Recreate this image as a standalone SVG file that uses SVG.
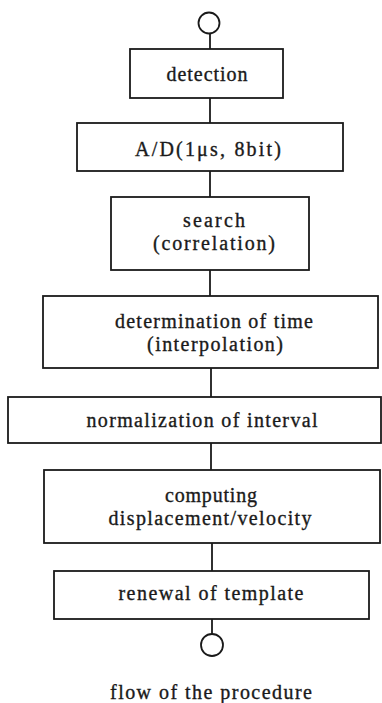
<svg xmlns="http://www.w3.org/2000/svg" width="382" height="703" viewBox="0 0 382 703">
<style>
.box{fill:#fff;stroke:#1a1a1a;stroke-width:1.8}
.ln{stroke:#1a1a1a;stroke-width:1.8;fill:none}
.t{font-family:"Liberation Serif","Times New Roman",serif;font-size:20px;fill:#1a1a1a;text-anchor:middle;stroke:#1a1a1a;stroke-width:0.35}
</style>
<rect width="382" height="703" fill="#fff"/>
<g id="connectors">
<line class="ln" x1="210" y1="33" x2="210" y2="49"/>
<line class="ln" x1="210" y1="98" x2="210" y2="123"/>
<line class="ln" x1="210" y1="171" x2="210" y2="197"/>
<line class="ln" x1="210" y1="270" x2="210" y2="296"/>
<line class="ln" x1="211" y1="368" x2="211" y2="397"/>
<line class="ln" x1="211" y1="443" x2="211" y2="470"/>
<line class="ln" x1="212" y1="543" x2="212" y2="571"/>
<line class="ln" x1="212" y1="619" x2="212" y2="634"/>
</g>
<g id="start"><circle class="ln" cx="209" cy="23" r="10.5"/></g>
<g id="detection"><rect class="box" x="130" y="49" width="153" height="49"/><text class="t" x="207" y="81" textLength="81" lengthAdjust="spacing">detection</text></g>
<g id="ad"><rect class="box" x="77" y="123" width="266" height="48"/><text class="t" x="208" y="156" textLength="146" lengthAdjust="spacing">A/D(1μs, 8bit)</text></g>
<g id="search"><rect class="box" x="111" y="197" width="198" height="73"/><text class="t" x="214" y="227" textLength="62" lengthAdjust="spacing">search</text><text class="t" x="214" y="250" textLength="122" lengthAdjust="spacing">(correlation)</text></g>
<g id="determination"><rect class="box" x="43" y="296" width="335" height="72"/><text class="t" x="214" y="328" textLength="198" lengthAdjust="spacing">determination of time</text><text class="t" x="215" y="351" textLength="136" lengthAdjust="spacing">(interpolation)</text></g>
<g id="normalization"><rect class="box" x="8" y="397" width="373" height="46"/><text class="t" x="202" y="427" textLength="231" lengthAdjust="spacing">normalization of interval</text></g>
<g id="computing"><rect class="box" x="44" y="470" width="336" height="73"/><text class="t" x="211" y="502" textLength="92" lengthAdjust="spacing">computing</text><text class="t" x="210" y="525" textLength="203" lengthAdjust="spacing">displacement/velocity</text></g>
<g id="renewal"><rect class="box" x="54" y="571" width="315" height="48"/><text class="t" x="211" y="600" textLength="185" lengthAdjust="spacing">renewal of template</text></g>
<g id="end"><circle class="ln" cx="212" cy="645" r="11"/></g>
<text class="t" x="211" y="699" textLength="202" lengthAdjust="spacing">flow of the procedure</text>
</svg>
